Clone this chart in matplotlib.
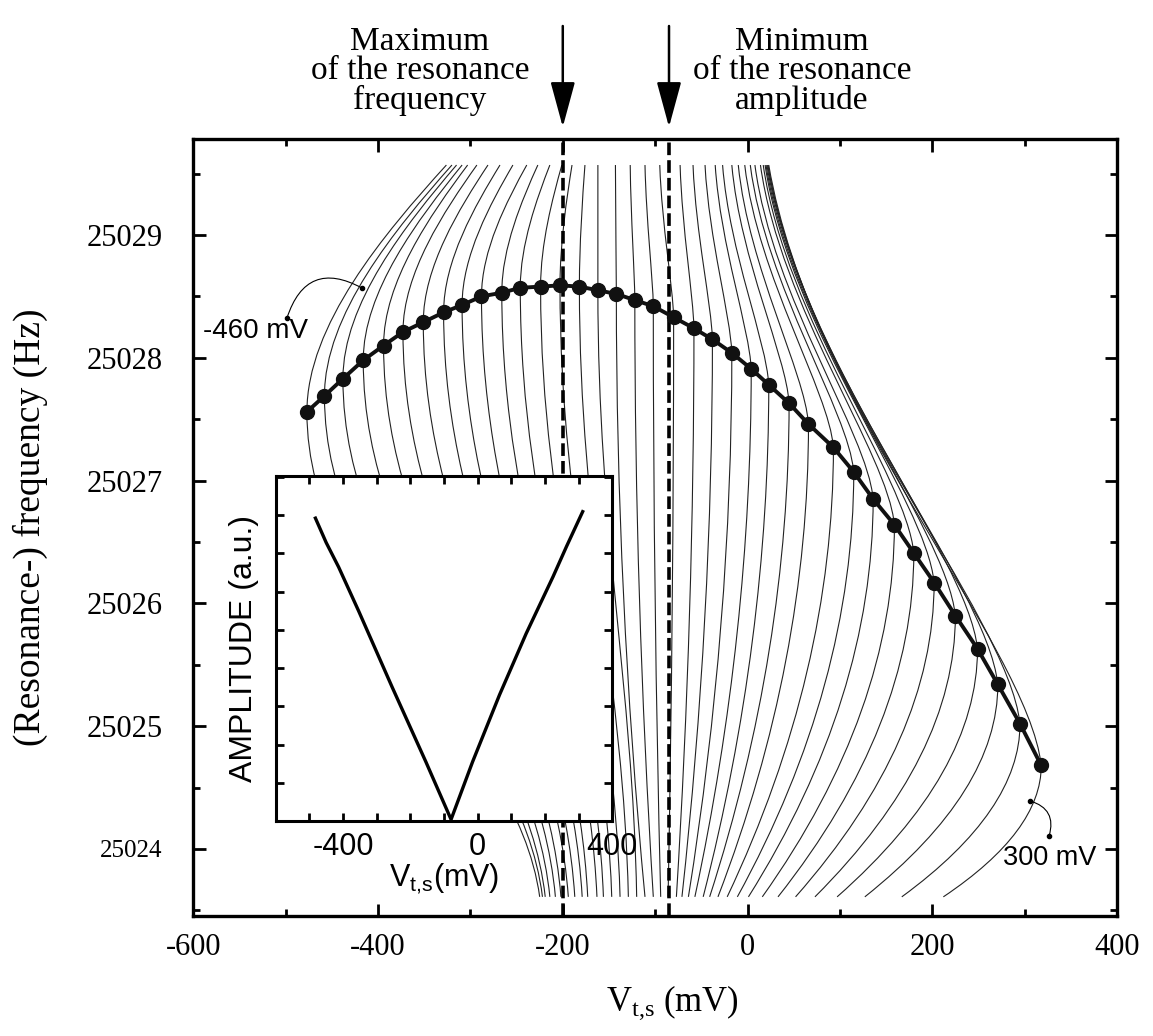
import matplotlib
matplotlib.use('Agg')
import matplotlib.pyplot as plt
from matplotlib.path import Path
from matplotlib.patches import PathPatch
from matplotlib.ticker import MultipleLocator, FormatStrFormatter, FuncFormatter

plt.rcParams['font.family'] = ['Liberation Serif', 'DejaVu Serif']
plt.rcParams['mathtext.default'] = 'regular'
plt.rcParams['axes.unicode_minus'] = False

# resonance maximum of each sweep (mV, Hz)
dot_v = [-477, -458, -438, -416, -394, -373, -351, -329, -309, -288,
         -266, -246, -224, -203, -182, -162, -142, -122, -102, -80,
         -58, -38, -17, 4, 23, 45, 66, 93, 115, 136,
         159, 180, 202, 225, 249, 271, 295, 318]
dot_f = [25027.56, 25027.69, 25027.83, 25027.98, 25028.10, 25028.21, 25028.29, 25028.37, 25028.43, 25028.50,
         25028.53, 25028.57, 25028.58, 25028.59, 25028.58, 25028.55, 25028.52, 25028.47, 25028.42, 25028.33,
         25028.24, 25028.15, 25028.04, 25027.91, 25027.78, 25027.63, 25027.46, 25027.27, 25027.07, 25026.85,
         25026.64, 25026.41, 25026.17, 25025.90, 25025.63, 25025.34, 25025.02, 25024.68]

# where each thin sweep curve leaves the top and the bottom of the sweep range
top_v = [-326, -320, -315, -309, -303, -293, -281, -268, -254, -239,
         -227, -214, -201, -190, -176, -162, -143, -127, -111, -95,
         -73, -59, -46, -35, -27, -17, -10, -3, 3, 8,
         14, 17, 19, 20, 21, 22, 22, 23]
bot_v = [-225, -222, -219, -214, -208, -202, -194, -187, -179, -173,
         -163, -156, -147, -138, -129, -120, -111, -102, -94, -86,
         -77, -71, -64, -57, -48, -41, -32, -22, -11, 1,
         16, 33, 52, 73, 97, 127, 167, 212]
f_top = 25029.57
f_bot = 25023.61

# inset: amplitude vs tip-sample voltage
amp_v = [-482, -450, -413, -353, -254, -154, -79, -15, 65, 144, 224, 264, 312]
amp_a = [7.92, 7.28, 6.64, 5.48, 3.50, 1.55, 0.04, 1.55, 3.30, 4.90, 6.39, 7.18, 8.09]

max_freq_v = -200
min_amp_v = -85

W, H = 1153, 1036
fig = plt.figure(figsize=(W / 100, H / 100), dpi=100)
ax = fig.add_axes([193.3 / W, 1 - 916 / H, (1117 - 193.3) / W, (916 - 139) / H])
ax.set_xlim(-600, 400)
ax.set_ylim(25023.454, 25029.782)

# thin sweep curves drawn as bezier paths through top, maximum and bottom
for xt, xd, fd, xb in zip(top_v, dot_v, dot_f, bot_v):
    du, dxu = f_top - fd, xt - xd
    dl, dxl = f_bot - fd, xb - xd
    if xt >= xd:
        cu1 = (xd, fd + 0.35 * du)
        cu2 = (xd + 0.55 * dxu, fd + 0.72 * du)
        cl1 = (xd, fd + 0.4 * dl)
        cl2 = (xb - 0.1 * dxl, fd + 0.65 * dl)
    else:
        cu1 = (xd + 0.05 * dxu, fd + 0.2 * du)
        cu2 = (xd + 0.85 * dxu, fd + 0.6 * du)
        cl1 = (xd, fd + dl / 3)
        cl2 = (xd + dxl / 3, fd + 2 * dl / 3)
    verts = [(xt, f_top), cu2, cu1, (xd, fd), cl1, cl2, (xb, f_bot)]
    codes = [Path.MOVETO] + [Path.CURVE4] * 6
    ax.add_patch(PathPatch(Path(verts, codes), fill=False, lw=0.8,
                           edgecolor='#222222', zorder=1))

for v in (max_freq_v, min_amp_v):
    ax.axvline(v, color='black', lw=2.6, dashes=(3.5, 1.4), zorder=2)

ax.plot(dot_v, dot_f, color='#111111', lw=2.8, marker='o', ms=10, zorder=3)

# labels of first and last sweep
ax.plot([-498.6, -417.3], [25028.324, 25028.568], 'o', color='black', ms=3, zorder=4)
ax.annotate('', xy=(-417.3, 25028.568), xytext=(-498.6, 25028.324),
            arrowprops=dict(arrowstyle='-', lw=0.8, color='black',
                            connectionstyle='arc3,rad=-0.6', shrinkA=0, shrinkB=0))
ax.text(-533, 25028.22, '-460 mV', family='Liberation Sans', fontsize=20,
        ha='center', va='center')
ax.plot([305.9, 326.5], [25024.391, 25024.106], 'o', color='black', ms=3, zorder=4)
ax.annotate('', xy=(326.5, 25024.106), xytext=(305.9, 25024.391),
            arrowprops=dict(arrowstyle='-', lw=0.8, color='black',
                            connectionstyle='arc3,rad=-0.5', shrinkA=0, shrinkB=0))
ax.text(327, 25023.93, '300 mV', family='Liberation Sans', fontsize=19.5,
        ha='center', va='center')

ax.xaxis.set_major_locator(MultipleLocator(200))
ax.xaxis.set_minor_locator(MultipleLocator(100))
ax.yaxis.set_major_locator(MultipleLocator(1))
ax.yaxis.set_minor_locator(MultipleLocator(0.5))
ax.yaxis.set_major_formatter(FormatStrFormatter('%d'))
ax.tick_params(which='both', direction='in', top=True, right=True, width=2)
ax.tick_params(which='major', length=9, labelsize=22)
ax.tick_params(which='minor', length=5)
ax.tick_params(axis='x', pad=12)
ax.tick_params(axis='y', pad=22)
fig.canvas.draw()
for lab in ax.get_yticklabels():
    if lab.get_text() == '25024':
        lab.set_fontsize(18)
for s in ax.spines.values():
    s.set_linewidth(2.4)

fig.text(30 / W, 1 - 527 / H, '(Resonance-) frequency (Hz)', rotation=90,
         ha='center', va='center', fontsize=27)
fig.text(672 / W, 1 - 1003 / H, r'$\mathregular{V_{t{,}s}}$ (mV)',
         ha='center', va='center', fontsize=25)

# arrows and notes above the plot
for v, lines, xc in ((max_freq_v, ['Maximum', 'of the resonance', 'frequency'], 420),
                     (min_amp_v, ['Minimum', 'of the resonance', 'amplitude'], 802)):
    ax.annotate('', xy=(v, H - 127), xytext=(v, H - 26),
                xycoords=('data', 'figure pixels'), textcoords=('data', 'figure pixels'),
                arrowprops=dict(arrowstyle='-|>,head_length=1.4,head_width=0.38',
                                mutation_scale=20, lw=1.8, color='black',
                                shrinkA=0, shrinkB=0), annotation_clip=False)
    for i, t in enumerate(lines):
        fig.text(xc / W, 1 - (42 + 29 * i) / H, t, ha='center', va='center', fontsize=24)

# inset
ins = fig.add_axes([275.7 / W, 1 - 821 / H, (612.3 - 275.7) / W, (821 - 475.7) / H])
ins.set_facecolor('white')
ins.plot(amp_v, amp_a, color='black', lw=2.4)
ins.set_xlim(-600, 400)
ins.set_ylim(0, 9.03)
ins.xaxis.set_major_locator(MultipleLocator(100))
ins.xaxis.set_major_formatter(FuncFormatter(lambda x, p: '%d' % x if round(x) % 400 == 0 else ''))
ins.yaxis.set_major_locator(MultipleLocator(1))
ins.yaxis.set_major_formatter(FuncFormatter(lambda x, p: ''))
ins.tick_params(direction='in', top=True, right=True, width=2, length=6,
                labelsize=22, pad=8)
for lab in ins.get_xticklabels():
    lab.set_family('Liberation Sans')
for s in ins.spines.values():
    s.set_linewidth(2.2)
ins.set_xlabel(r'$\mathregular{V_{t{,}s}}$(mV)', family='Liberation Sans', fontsize=22, labelpad=0)
ins.set_ylabel('AMPLITUDE (a.u.)', family='Liberation Sans', fontsize=23, labelpad=4)

fig.savefig('out.png', dpi=100)
